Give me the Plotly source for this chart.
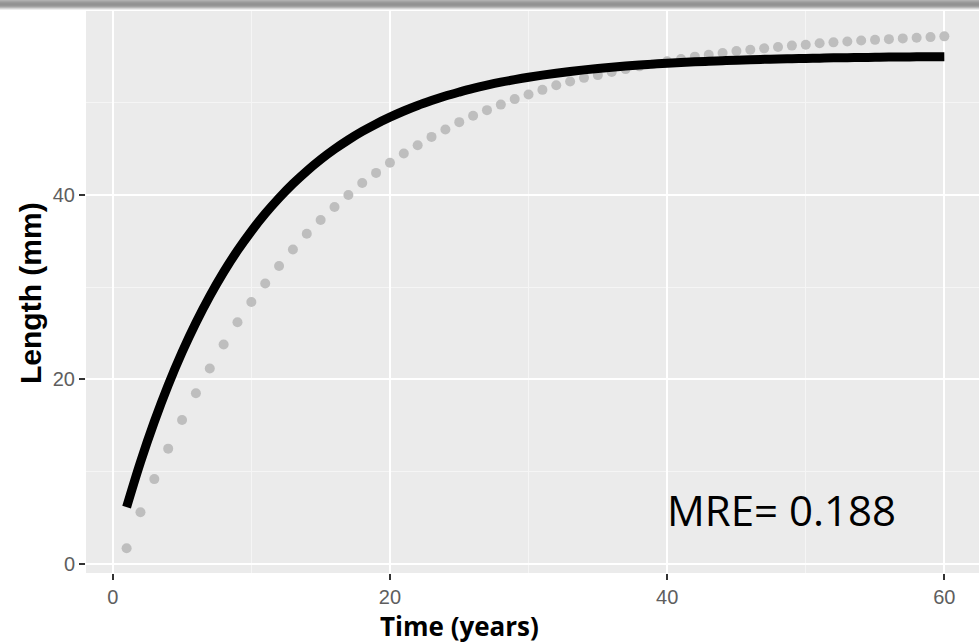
import plotly.graph_objects as go

# Observed (grey dots) lengths by year
years = list(range(1, 61))
observed = [
    1.7, 5.6, 9.2, 12.5, 15.6, 18.5, 21.2, 23.8, 26.2, 28.4,
    30.4, 32.3, 34.1, 35.8, 37.3, 38.7, 40.0, 41.3, 42.4, 43.5,
    44.5, 45.4, 46.3, 47.1, 47.9, 48.6, 49.2, 49.8, 50.4, 50.9,
    51.4, 51.9, 52.3, 52.7, 53.0, 53.35, 53.65, 53.95, 54.2, 54.5,
    54.75, 55.0, 55.2, 55.4, 55.6, 55.75, 55.9, 56.05, 56.2, 56.3,
    56.45, 56.55, 56.65, 56.75, 56.82, 56.9, 56.98, 57.05, 57.12, 57.2,
]
# Fitted (black curve) lengths by year
fitted = [
    6.16, 11.04, 15.43, 19.39, 22.95, 26.15, 29.04, 31.64, 33.98, 36.08,
    37.98, 39.68, 41.22, 42.60, 43.85, 44.97, 45.98, 46.89, 47.71, 48.44,
    49.11, 49.71, 50.24, 50.73, 51.16, 51.56, 51.91, 52.23, 52.51, 52.77,
    53.00, 53.21, 53.40, 53.57, 53.72, 53.86, 53.98, 54.09, 54.19, 54.29,
    54.37, 54.44, 54.50, 54.56, 54.62, 54.67, 54.71, 54.75, 54.78, 54.81,
    54.84, 54.87, 54.89, 54.91, 54.93, 54.95, 54.96, 54.98, 54.99, 55.00,
]
x_ticks = [0, 20, 40, 60]
y_ticks = [0, 20, 40]

fig = go.Figure()
fig.add_trace(go.Scatter(
    x=years, y=observed, mode="markers",
    marker=dict(color="#bebebe", size=10, line=dict(width=0)),
    showlegend=False, hoverinfo="skip",
))
fig.add_trace(go.Scatter(
    x=years, y=fitted, mode="lines",
    line=dict(color="black", width=9, shape="spline"),
    showlegend=False, hoverinfo="skip",
))

W, H = 979, 643
L, R, T, B = 86, 0, 11, 70
ph = H - T - B
pw = W - L - R

def px_x(p):
    return (p - L) / pw

def px_y(p):
    return (H - B - p) / ph

shapes = []
band = ["#b0b0b0", "#a4a4a4", "#9a9a9a", "#949494", "#929292", "#969696",
        "#a2a2a2", "#b8b8b8", "#d4d4d4", "#ededed"]
for i, c in enumerate(band):
    shapes.append(dict(type="rect", xref="paper", yref="paper",
                       x0=px_x(0), x1=px_x(W), y0=px_y(i + 1), y1=px_y(i),
                       fillcolor=c, line=dict(width=0), layer="above"))

axis_common = dict(
    showgrid=True, gridcolor="white", gridwidth=2.4,
    zeroline=False, showline=False,
    ticks="outside", ticklen=6, tickwidth=2, tickcolor="#333333",
    tickfont=dict(family="Liberation Sans, Arial", size=20, color="#5e5e5e"),
)

fig.update_layout(
    width=W, height=H,
    margin=dict(l=L, r=R, t=T, b=B),
    paper_bgcolor="white", plot_bgcolor="#ebebeb",
    xaxis=dict(range=[-1.93, 62.5], tickvals=x_ticks, ticktext=[str(v) for v in x_ticks],
               minor=dict(dtick=10, tick0=0, showgrid=True, gridcolor="#f5f5f5", gridwidth=1.2, ticks=""),
               **axis_common),
    yaxis=dict(range=[-0.98, 59.95], tickvals=y_ticks, ticktext=[str(v) for v in y_ticks],
               minor=dict(dtick=10, tick0=0, showgrid=True, gridcolor="#f5f5f5", gridwidth=1.2, ticks=""),
               **axis_common),
    shapes=shapes,
    annotations=[
        dict(text="Length (mm)", xref="paper", yref="paper", x=px_x(30), y=px_y(293),
             xanchor="center", yanchor="middle", textangle=-90, showarrow=False,
             font=dict(family="Liberation Sans, Arial", size=30, color="black", weight="bold")),
        dict(text="<b>Time (years)</b>", xref="paper", yref="paper", x=px_x(459), y=px_y(626),
             xanchor="center", yanchor="middle", showarrow=False,
             font=dict(family="Open Sans", size=26, color="black")),
        dict(text="MRE= 0.188", xref="paper", yref="paper", x=px_x(781), y=px_y(509),
             xanchor="center", yanchor="middle", showarrow=False,
             font=dict(family="Open Sans", size=42, color="black")),
    ],
)

fig.write_html(
    "out.html",
    config={"displayModeBar": False},
    post_script="document.body.style.margin='0';document.body.style.overflow='hidden';",
)
